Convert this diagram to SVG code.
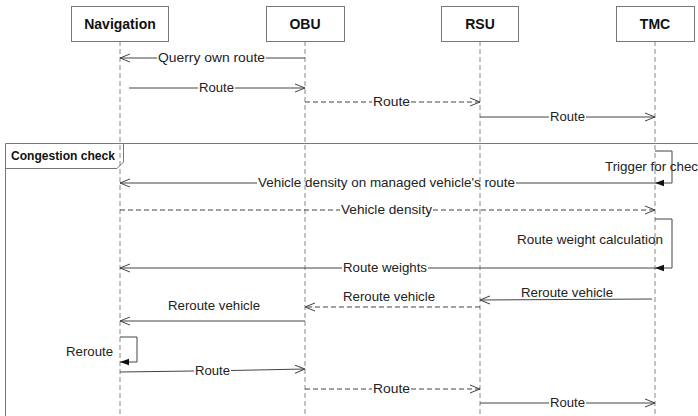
<svg xmlns="http://www.w3.org/2000/svg" width="698" height="416" viewBox="0 0 698 416">
<defs>
<style>
.box{fill:#fff;stroke:#777;stroke-width:1}
.hdr{font-family:"Liberation Sans",Arial,sans-serif;font-size:14px;font-weight:bold;fill:#111;text-anchor:middle}
.life{stroke:#888;stroke-width:1;stroke-dasharray:5,3;fill:none}
.msg{stroke:#444;stroke-width:1;fill:none}
.dash{stroke:#444;stroke-width:1;fill:none;stroke-dasharray:5,3}
.lbl{font-family:"Liberation Sans",Arial,sans-serif;font-size:13px;fill:#222}
.frame{stroke:#777;stroke-width:1;fill:none}
</style>
<marker id="open" viewBox="0 0 10 10" refX="10" refY="5" markerWidth="10" markerHeight="10" markerUnits="userSpaceOnUse" orient="auto">
<path d="M0,1 L10,5 L0,9" fill="none" stroke="#444" stroke-width="1"/>
</marker>
<marker id="fill" viewBox="0 0 10 10" refX="10" refY="5" markerWidth="9" markerHeight="9" markerUnits="userSpaceOnUse" orient="auto">
<path d="M0,1.5 L10,5 L0,8.5 Z" fill="#111"/>
</marker>
</defs>
<rect width="698" height="416" fill="#fff"/>

<g id="lifelines">
<line class="life" x1="120" y1="41" x2="120" y2="416"/>
<line class="life" x1="305" y1="41" x2="305" y2="416"/>
<line class="life" x1="480" y1="41" x2="480" y2="416"/>
<line class="life" x1="655" y1="41" x2="655" y2="416"/>
</g>

<g id="navigation"><rect class="box" x="71.5" y="6.5" width="97" height="35"/><text class="hdr" x="120" y="29">Navigation</text></g>
<g id="obu"><rect class="box" x="266.5" y="6.5" width="78" height="35"/><text class="hdr" x="305" y="29">OBU</text></g>
<g id="rsu"><rect class="box" x="441.5" y="6.5" width="77" height="35"/><text class="hdr" x="480" y="29">RSU</text></g>
<g id="tmc"><rect class="box" x="616.5" y="6.5" width="78" height="35"/><text class="hdr" x="655" y="29">TMC</text></g>

<g id="frame">
<path class="frame" d="M5.5,416 V143.5 H698"/>
<path class="frame" d="M5.5,168.5 H117 L123.5,162 V143.5"/>
<text x="11" y="160" style="font-family:'Liberation Sans',Arial,sans-serif;font-size:12px;font-weight:bold;fill:#111" textLength="104" lengthAdjust="spacingAndGlyphs">Congestion check</text>
</g>

<g id="connectors">
<!-- 1 Querry own route -->
<line class="msg" x1="305" y1="58" x2="266" y2="58"/>
<line class="msg" x1="157" y1="58" x2="120" y2="58" marker-end="url(#open)"/>
<text class="lbl" x="158" y="62" textLength="107" lengthAdjust="spacingAndGlyphs">Querry own route</text>
<!-- 2 Route -->
<line class="msg" x1="129" y1="88" x2="198" y2="88"/>
<line class="msg" x1="235" y1="88" x2="305" y2="88" marker-end="url(#open)"/>
<text class="lbl" x="199" y="92" textLength="35" lengthAdjust="spacingAndGlyphs">Route</text>
<!-- 3 Route dashed -->
<line class="dash" x1="305" y1="102" x2="372" y2="102"/>
<line class="dash" x1="411" y1="102" x2="480" y2="102" marker-end="url(#open)"/>
<text class="lbl" x="373" y="106" textLength="37" lengthAdjust="spacingAndGlyphs">Route</text>
<!-- 4 Route -->
<line class="msg" x1="480" y1="117" x2="549" y2="117"/>
<line class="msg" x1="586" y1="117" x2="655" y2="117" marker-end="url(#open)"/>
<text class="lbl" x="550" y="121" textLength="35" lengthAdjust="spacingAndGlyphs">Route</text>
<!-- 5 Trigger self -->
<path class="msg" d="M655,151 H672 V183 H655" marker-end="url(#fill)"/>
<text class="lbl" x="605" y="171" textLength="93" lengthAdjust="spacingAndGlyphs">Trigger for chec</text>
<!-- 6 Vehicle density on managed -->
<line class="msg" x1="655" y1="183" x2="516" y2="183"/>
<line class="msg" x1="257" y1="183" x2="120" y2="183" marker-end="url(#open)"/>
<text class="lbl" x="258" y="187" textLength="257" lengthAdjust="spacingAndGlyphs">Vehicle density on managed vehicle's route</text>
<!-- 7 Vehicle density dashed -->
<line class="dash" x1="120" y1="210" x2="340" y2="210"/>
<line class="dash" x1="433" y1="210" x2="655" y2="210" marker-end="url(#open)"/>
<text class="lbl" x="341" y="214" textLength="91" lengthAdjust="spacingAndGlyphs">Vehicle density</text>
<!-- 8 Route weight calc self -->
<path class="msg" d="M655,219 H672 V268 H655" marker-end="url(#fill)"/>
<text class="lbl" x="517" y="244" textLength="146" lengthAdjust="spacingAndGlyphs">Route weight calculation</text>
<!-- 9 Route weights -->
<line class="msg" x1="655" y1="268" x2="428" y2="268"/>
<line class="msg" x1="342" y1="268" x2="120" y2="268" marker-end="url(#open)"/>
<text class="lbl" x="343" y="272" textLength="84" lengthAdjust="spacingAndGlyphs">Route weights</text>
<!-- 10 Reroute vehicle TMC->RSU -->
<line class="msg" x1="652" y1="299" x2="480" y2="300" marker-end="url(#open)"/>
<text class="lbl" x="521" y="297" textLength="92" lengthAdjust="spacingAndGlyphs">Reroute vehicle</text>
<!-- 11 Reroute vehicle RSU->OBU dashed -->
<line class="dash" x1="480" y1="307" x2="305" y2="307" marker-end="url(#open)"/>
<text class="lbl" x="343" y="301" textLength="92" lengthAdjust="spacingAndGlyphs">Reroute vehicle</text>
<!-- 12 Reroute vehicle OBU->Nav -->
<line class="msg" x1="305" y1="321" x2="120" y2="321" marker-end="url(#open)"/>
<text class="lbl" x="168" y="310" textLength="92" lengthAdjust="spacingAndGlyphs">Reroute vehicle</text>
<!-- 13 Reroute self -->
<path class="msg" d="M120,337 H137 V362 H120" marker-end="url(#fill)"/>
<text class="lbl" x="66" y="356" textLength="47" lengthAdjust="spacingAndGlyphs">Reroute</text>
<!-- 14 Route -->
<line class="msg" x1="120" y1="372" x2="194" y2="371"/>
<line class="msg" x1="231" y1="370.5" x2="305" y2="369" marker-end="url(#open)"/>
<text class="lbl" x="195" y="375" textLength="35" lengthAdjust="spacingAndGlyphs">Route</text>
<!-- 15 Route dashed -->
<line class="dash" x1="305" y1="389" x2="372" y2="389"/>
<line class="dash" x1="411" y1="389" x2="480" y2="389" marker-end="url(#open)"/>
<text class="lbl" x="373" y="393" textLength="37" lengthAdjust="spacingAndGlyphs">Route</text>
<!-- 16 Route -->
<line class="msg" x1="480" y1="403" x2="549" y2="403"/>
<line class="msg" x1="586" y1="403" x2="655" y2="403" marker-end="url(#open)"/>
<text class="lbl" x="550" y="407" textLength="35" lengthAdjust="spacingAndGlyphs">Route</text>
</g>
</svg>
